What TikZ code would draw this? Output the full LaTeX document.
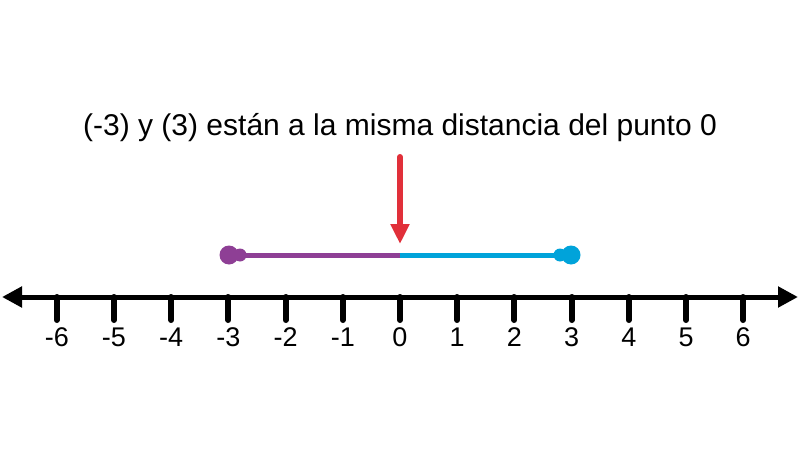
\documentclass[tikz,border=0pt]{standalone}
\usepackage{fontspec}
\setmainfont{Liberation Sans}
\usetikzlibrary{arrows.meta}
\definecolor{segpurple}{HTML}{8E3F95}
\definecolor{segcyan}{HTML}{00A3DA}
\definecolor{markred}{HTML}{E1303A}
\begin{document}
\begin{tikzpicture}[x=1pt,y=-1pt]
\useasboundingbox (0,0) rectangle (800,460);
% number line
\coordinate (axisL) at (2,297);
\coordinate (axisR) at (798,297);
\draw[line width=5pt,{Triangle[length=20pt,width=20pt]}-{Triangle[length=20pt,width=20pt]}] (axisL) -- (axisR);
\foreach \n in {-6,...,6} {
  \draw[line width=6pt,line cap=round] (400+57.2*\n,297) -- (400+57.2*\n,320);
  \node[font=\fontsize{27}{30}\selectfont,anchor=base,inner sep=0pt] (lab\n) at (400+57.2*\n,346) {\n};
}
% segments
\coordinate (zero) at (400,255);
\coordinate (mthree) at (229,255);
\coordinate (pthree) at (571,255);
\draw[segpurple,line width=5pt] (mthree) -- (zero);
\draw[segcyan,line width=5pt] (zero) -- (pthree);
\fill[segpurple] (mthree) circle (9.5) (240,255) circle (6.5);
\fill[segcyan] (pthree) circle (9.5) (560,255) circle (6.5);
% pointer
\coordinate (top) at (400,157);
\coordinate (tip) at (400,244);
\draw[markred,line width=6pt,line cap=round,-{Triangle[length=20pt,width=18pt]}] (top) -- (tip);
\node[font=\fontsize{30}{34}\selectfont,anchor=base,inner sep=0pt] (title) at (400,135) {(-3) y (3) están a la misma distancia del punto 0};
\end{tikzpicture}
\end{document}
